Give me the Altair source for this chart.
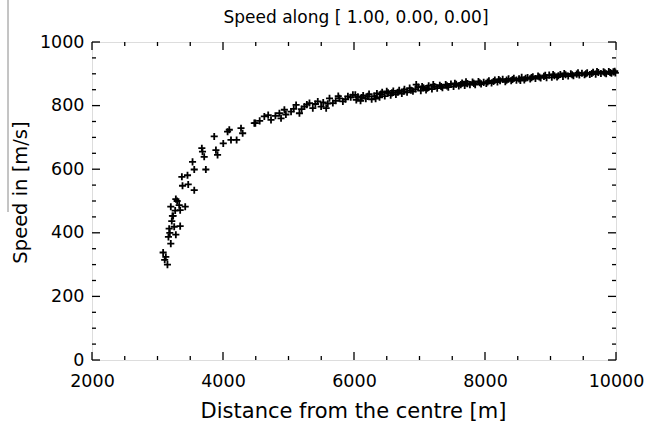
import altair as alt
import pandas as pd

# Distance from the centre [m] and speed [m/s] of each sample
distance = [
    3086, 3110, 3127, 3152, 3167, 3178, 3188, 3203, 3203, 3218, 3228, 3239,
    3255, 3270, 3280, 3280, 3300, 3331, 3346, 3346, 3372, 3382, 3423, 3458,
    3469, 3535, 3561, 3561, 3677, 3687, 3713, 3738, 3866, 3892, 3917, 4004,
    4070, 4096, 4122, 4208, 4275, 4300, 4478, 4494, 4560, 4631, 4690, 4733,
    4800, 4861, 4886, 4937, 4960, 5039, 5080, 5116, 5167, 5200, 5243, 5280,
    5320, 5371, 5410, 5447, 5498, 5530, 5575, 5600, 5626, 5677, 5720, 5760,
    5779, 5830, 5870, 5907, 5950, 5983, 6020, 6035, 6060, 6100, 6120, 6140,
    6180, 6210, 6230, 6270, 6310, 6330, 6350, 6390, 6410, 6430, 6470, 6500,
    6520, 6560, 6580, 6600, 6640, 6670, 6690, 6730, 6760, 6770, 6810, 6850,
    6870, 6900, 6940, 6950, 6980, 7020, 7040, 7060, 7100, 7120, 7140, 7190,
    7210, 7230, 7270, 7310, 7330, 7350, 7400, 7420, 7440, 7480, 7520, 7540,
    7560, 7600, 7630, 7650, 7690, 7710, 7730, 7770, 7810, 7830, 7850, 7900,
    7920, 7940, 7980, 8020, 8040, 8060, 8100, 8130, 8150, 8190, 8210, 8230,
    8270, 8310, 8330, 8360, 8400, 8420, 8440, 8480, 8520, 8540, 8560, 8600,
    8620, 8650, 8690, 8710, 8730, 8770, 8810, 8830, 8850, 8900, 8920, 8940,
    8980, 9020, 9040, 9060, 9100, 9120, 9150, 9190, 9210, 9230, 9270, 9310,
    9330, 9350, 9400, 9420, 9440, 9480, 9520, 9540, 9560, 9600, 9630, 9650,
    9690, 9710, 9730, 9770, 9810, 9830, 9850, 9890, 9910, 9930, 9960, 9980,
    9990,
]
speed = [
    338, 315, 324, 300, 387, 413, 400, 366, 482, 437, 453, 453,
    419, 470, 394, 506, 500, 487, 421, 471, 576, 548, 482, 581,
    552, 623, 534, 599, 666, 655, 639, 599, 703, 660, 645, 681,
    718, 724, 692, 692, 729, 713, 745, 745, 752, 766, 770, 755,
    768, 776, 760, 787, 772, 781, 790, 802, 776, 789, 797, 803,
    808, 792, 805, 813, 797, 810, 792, 806, 823, 808, 815, 830,
    823, 813, 820, 829, 826, 834, 834, 818, 828, 815, 825, 832,
    822, 829, 836, 820, 830, 822, 838, 826, 836, 842, 830, 845,
    840, 833, 840, 846, 835, 842, 848, 838, 845, 851, 842, 855,
    848, 845, 852, 866, 858, 847, 860, 856, 849, 855, 862, 852,
    866, 860, 855, 864, 860, 856, 866, 862, 858, 868, 860, 870,
    867, 862, 866, 871, 863, 875, 869, 866, 874, 870, 866, 876,
    872, 868, 873, 870, 874, 878, 871, 876, 880, 874, 882, 878,
    883, 875, 880, 884, 878, 882, 886, 880, 884, 879, 889, 881,
    886, 888, 884, 888, 891, 885, 893, 890, 887, 892, 895, 888,
    896, 889, 898, 894, 890, 894, 898, 892, 901, 897, 893, 900,
    897, 894, 899, 903, 896, 902, 897, 900, 903, 898, 901, 905,
    899, 907, 904, 901, 906, 903, 900, 907, 904, 902, 906, 908,
    903,
]

# Axis tick positions (IDL-style inward ticks on all four sides)
x_major = [2000, 4000, 6000, 8000, 10000]
x_minor = [2500, 3000, 3500, 4500, 5000, 5500, 6500, 7000, 7500, 8500, 9000, 9500]
y_major = [0, 200, 400, 600, 800, 1000]
y_minor = [50, 100, 150, 250, 300, 350, 450, 500, 550, 650, 700, 750, 850, 900, 950]

TITLE = "Speed along [ 1.00, 0.00, 0.00]"

W, H = 524, 318
FONT = "DejaVu Sans"

points = pd.DataFrame({"distance": distance, "speed": speed})

xs = alt.Scale(domain=[2000, 10000], nice=False, zero=False)
ys = alt.Scale(domain=[0, 1000], nice=False, zero=False)

x_axis = alt.Axis(
    values=x_major, format="d", grid=False, ticks=False, domain=False,
    labelFont=FONT, labelFontSize=17.5, labelColor="black", labelPadding=12,
    labelFlush=False, labelOverlap=False,
    title="Distance from the centre [m]", titleFont=FONT, titleFontSize=21,
    titleFontWeight="normal", titleColor="black",
    titleX=261, titleY=57, titleAnchor="middle", titleBaseline="alphabetic",
)
y_axis = alt.Axis(
    values=y_major, format="d", grid=False, ticks=False, domain=False,
    labelFont=FONT, labelFontSize=17.5, labelColor="black", labelPadding=8,
    labelFlush=False, labelOverlap=False,
    title="Speed in [m/s]", titleFont=FONT, titleFontSize=19.5,
    titleFontWeight="normal", titleColor="black",
    titleX=-72, titleY=150, titleAngle=270, titleAnchor="middle",
    titleBaseline="middle",
)

scatter = alt.Chart(points).mark_point(
    shape="M-1,0H1M0,-1V1", filled=False, color="black",
    strokeWidth=1.8, size=50, opacity=1,
).encode(
    x=alt.X("distance:Q", scale=xs, axis=x_axis),
    y=alt.Y("speed:Q", scale=ys, axis=y_axis),
)


def x_ticks(values, length):
    df = pd.DataFrame({"t": values})
    base = alt.Chart(df).mark_rule(color="black", strokeWidth=1.3)
    bottom = base.encode(x=alt.X("t:Q", scale=xs), y=alt.value(H), y2=alt.value(H - length))
    top = base.encode(x=alt.X("t:Q", scale=xs), y=alt.value(0), y2=alt.value(length))
    return [bottom, top]


def y_ticks(values, length):
    df = pd.DataFrame({"t": values})
    base = alt.Chart(df).mark_rule(color="black", strokeWidth=1.3)
    left = base.encode(y=alt.Y("t:Q", scale=ys), x=alt.value(0), x2=alt.value(length))
    right = base.encode(y=alt.Y("t:Q", scale=ys), x=alt.value(W), x2=alt.value(W - length))
    return [left, right]


# thin grey rule at the far left edge
edge = alt.Chart(pd.DataFrame({"t": [0]})).mark_rule(color="#8a8a8a", strokeWidth=1).encode(
    x=alt.value(-84), y=alt.value(-42), y2=alt.value(170)
)

# chart heading, centred over the plot frame
heading = alt.Chart(pd.DataFrame({"label": [TITLE]})).mark_text(
    font=FONT, fontSize=17, color="black", align="center", baseline="alphabetic"
).encode(
    text="label:N", x=alt.value(W / 2 + 2), y=alt.value(-19)
)

layers = (
    [scatter]
    + x_ticks(x_major, 8) + x_ticks(x_minor, 4)
    + y_ticks(y_major, 8) + y_ticks(y_minor, 4)
    + [edge, heading]
)

chart = alt.layer(*layers).properties(
    width=W,
    height=H,
    autosize=alt.AutoSizeParams(type="none"),
    padding={"left": 92, "top": 42, "right": 30, "bottom": 66},
).configure_view(
    stroke="black", strokeWidth=1.5, fill="white"
).configure(background="white")

chart.save("out.html", embed_options={"renderer": "svg", "actions": False})
